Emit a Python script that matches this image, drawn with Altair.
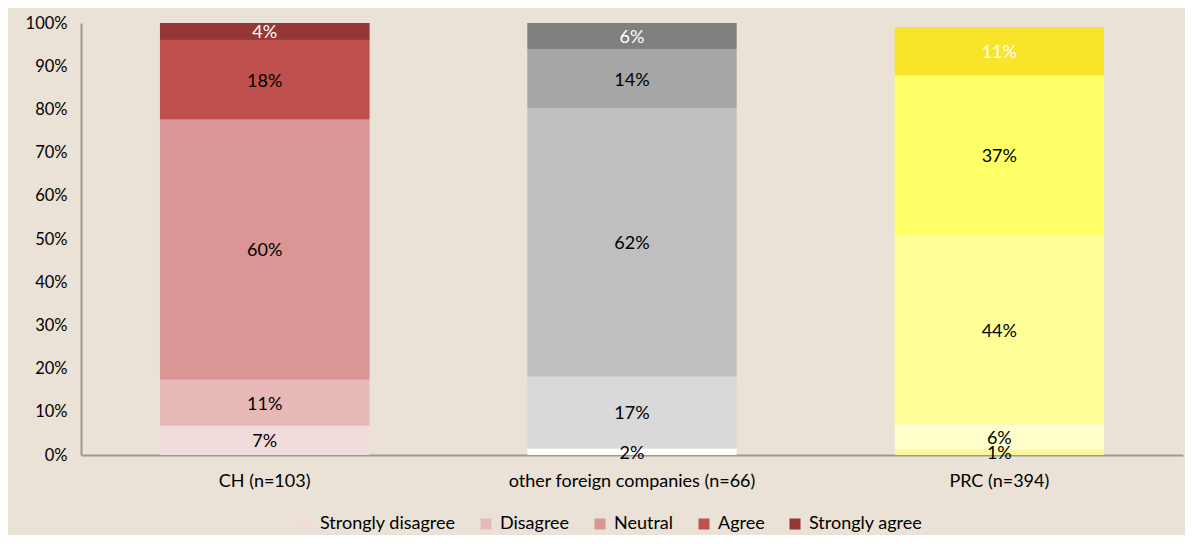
import altair as alt
import pandas as pd

groups = ["CH (n=103)", "other foreign companies (n=66)", "PRC (n=394)"]
responses = ["Strongly disagree", "Disagree", "Neutral", "Agree", "Strongly agree"]

ch_values = [6.8, 10.7, 60.2, 18.4, 3.9]
other_values = [1.5, 16.7, 62.1, 13.6, 6.1]
prc_values = [1.3, 5.8, 43.7, 37.1, 11.2]

ch_labels = ["7%", "11%", "60%", "18%", "4%"]
other_labels = ["2%", "17%", "62%", "14%", "6%"]
prc_labels = ["1%", "6%", "44%", "37%", "11%"]

ch_colors = ["#F2DCDB", "#E6B9B8", "#D99694", "#C0504D", "#953735"]
other_colors = ["#FFFFFF", "#D9D9D9", "#BFBFBF", "#A6A6A6", "#7F7F7F"]
prc_colors = ["#FFF59D", "#FFFFCC", "#FFFF99", "#FFFF66", "#F9E42C"]

label_colors = ["black", "black", "black", "black", "white"]

rows = []
for g, vals, labs, cols in [
    (groups[0], ch_values, ch_labels, ch_colors),
    (groups[1], other_values, other_labels, other_colors),
    (groups[2], prc_values, prc_labels, prc_colors),
]:
    cum = 0.0
    for i, r in enumerate(responses):
        v = vals[i] / 100.0
        rows.append({
            "group": g, "response": r, "order": i,
            "y0": cum, "y1": cum + v, "mid": cum + v / 2,
            "label": labs[i], "fill": cols[i], "tcolor": label_colors[i],
        })
        cum += v
df = pd.DataFrame(rows)

FONT = "Lato"
FS = 18

x_enc = alt.X("group:N", sort=groups, title=None,
              scale=alt.Scale(paddingInner=0.43, paddingOuter=0.215),
              axis=alt.Axis(labelAngle=0, labelFontSize=FS, labelFont=FONT, labelColor="black",
                            labelPadding=17, labelLimit=0, ticks=False,
                            domainColor="#999999", domainWidth=2))
y_scale = alt.Scale(domain=[0, 1])

base = alt.Chart(df)

bars = base.mark_bar().encode(
    x=x_enc,
    y=alt.Y("y0:Q", scale=y_scale, title=None,
            axis=alt.Axis(format=".0%", values=[i / 10 for i in range(11)], grid=False, ticks=False,
                          labelFontSize=16.5, labelFont=FONT, labelColor="black", labelPadding=14,
                          domainColor="#999999", domainWidth=2)),
    y2="y1:Q",
    fill=alt.Fill("fill:N", scale=None),
)

legend_bars = base.transform_filter(alt.datum.group == groups[0]).mark_bar().encode(
    x=alt.X("group:N", sort=groups),
    y=alt.Y("y0:Q", scale=y_scale),
    y2="y1:Q",
    color=alt.Color("response:N", sort=responses,
                    scale=alt.Scale(domain=responses, range=ch_colors),
                    legend=alt.Legend(title=None, orient="none", direction="horizontal",
                                      legendX=216, legendY=492, columns=5,
                                      symbolType="square", symbolSize=121, symbolStrokeWidth=0,
                                      labelFontSize=FS, labelFont=FONT, labelColor="black",
                                      labelOffset=5, columnPadding=21)),
)

text = base.mark_text(fontSize=FS, font=FONT, baseline="middle", dy=2).encode(
    x=alt.X("group:N", sort=groups),
    y=alt.Y("mid:Q", scale=y_scale),
    text="label:N",
    color=alt.Color("tcolor:N", scale=None),
)

chart = alt.layer(bars, legend_bars, text).resolve_scale(color="independent").properties(
    width=1102, height=432,
    background="#EAE2D6",
    padding={"left": 73, "top": 15, "right": 2, "bottom": 80},
    autosize=alt.AutoSizeParams(type="none"),
).configure_view(stroke=None)

chart.save("out.html", embed_options={"renderer": "svg", "actions": False})
